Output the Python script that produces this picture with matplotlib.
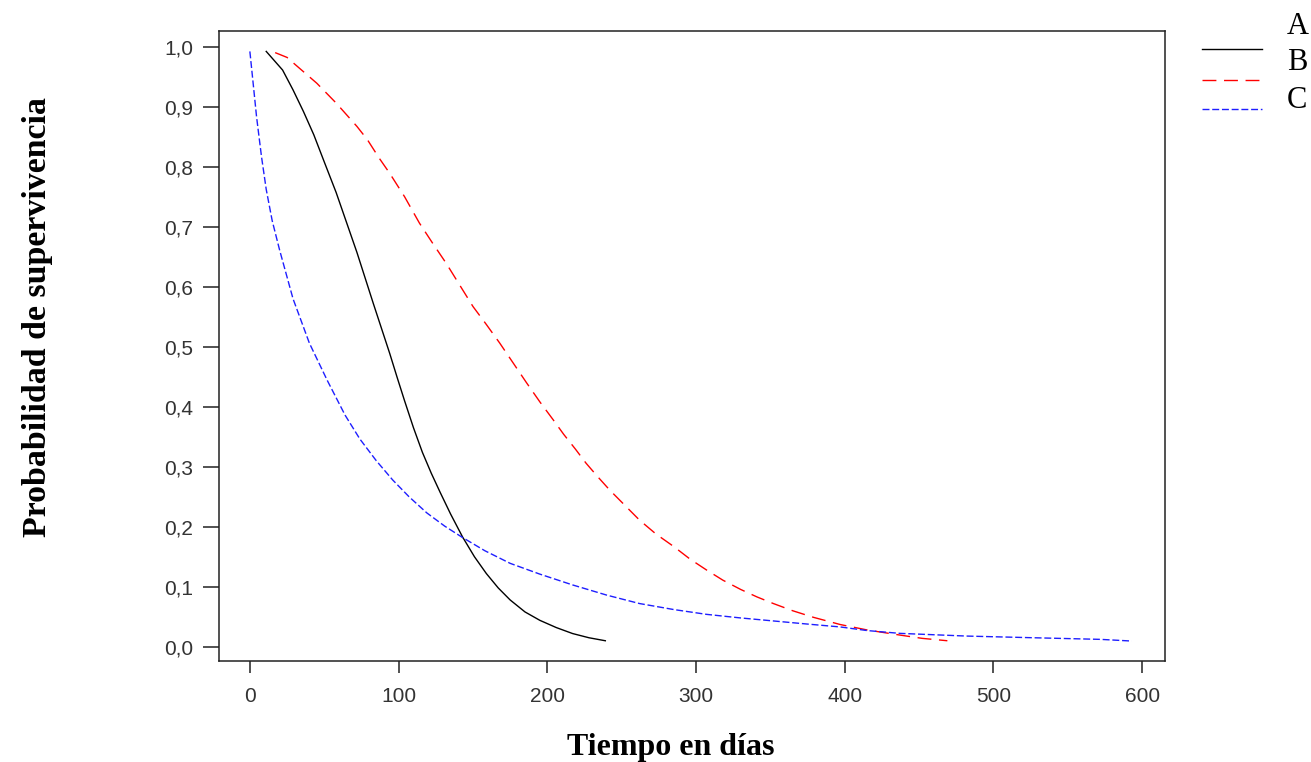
import matplotlib
matplotlib.use('Agg')
import matplotlib.pyplot as plt
from matplotlib.lines import Line2D

# Curve A (black, solid)
time_a = [11, 22, 29, 36, 43, 50, 58, 65, 72, 83, 94, 99, 104, 110, 116, 122, 128, 135, 143,
          151, 159, 167, 175, 185, 195, 206, 217, 228, 239]
surv_a = [0.992, 0.961, 0.928, 0.892, 0.853, 0.808, 0.757, 0.707, 0.657, 0.572, 0.489, 0.449,
          0.410, 0.365, 0.324, 0.289, 0.257, 0.221, 0.183, 0.150, 0.122, 0.098, 0.078, 0.058,
          0.044, 0.032, 0.022, 0.015, 0.010]

# Curve B (red, long dashes)
time_b = [17, 25, 31, 45, 58, 72, 79, 87, 94, 104, 114, 123, 132, 141, 150, 159, 168, 177, 186,
          195, 204, 211, 219, 226, 234, 242, 252, 262, 273, 285, 296, 307, 318, 330, 341, 352,
          365, 379, 397, 415, 437, 452, 469]
surv_b = [0.99, 0.982, 0.969, 0.939, 0.906, 0.867, 0.845, 0.814, 0.789, 0.750, 0.706, 0.672,
          0.639, 0.603, 0.567, 0.537, 0.506, 0.473, 0.440, 0.408, 0.378, 0.354, 0.329, 0.306,
          0.283, 0.261, 0.236, 0.211, 0.188, 0.167, 0.146, 0.128, 0.111, 0.0955, 0.083, 0.072,
          0.060, 0.049, 0.037, 0.028, 0.0195, 0.014, 0.010]

# Curve C (blue, short dashes)
time_c = [0, 2.2, 4.5, 7.8, 11, 15, 20, 29, 40, 52, 64, 74, 85, 96, 107, 119, 131, 143, 158,
          175, 195, 217, 240, 262, 285, 307, 330, 352, 374, 397, 415, 437, 482, 527, 572, 593]
surv_c = [0.992, 0.939, 0.883, 0.817, 0.762, 0.710, 0.661, 0.580, 0.506, 0.444, 0.386, 0.346,
          0.310, 0.278, 0.250, 0.223, 0.201, 0.182, 0.160, 0.139, 0.121, 0.103, 0.086, 0.072,
          0.062, 0.054, 0.048, 0.043, 0.038, 0.033, 0.027, 0.0223, 0.0178, 0.015, 0.0123,
          0.0095]

x_ticks = [0, 100, 200, 300, 400, 500, 600]
y_ticks = [0.0, 0.1, 0.2, 0.3, 0.4, 0.5, 0.6, 0.7, 0.8, 0.9, 1.0]
y_tick_labels = ['0,0', '0,1', '0,2', '0,3', '0,4', '0,5', '0,6', '0,7', '0,8', '0,9', '1,0']
legend_names = ['A', 'B', 'C']

fig = plt.figure(figsize=(13.11, 7.62), dpi=100)
ax = fig.add_axes([0.1670, 0.1325, 0.7216, 0.8268])

ax.plot(time_a, surv_a, color='black', linewidth=1.0)
ax.plot(time_b, surv_b, color='#ff0000', linewidth=1.0, dashes=(10, 5.5))
ax.plot(time_c, surv_c, color='#1e1eff', linewidth=1.0, dashes=(5, 2))

ax.set_xlim(-20.8, 615.3)
ax.set_ylim(-0.0238, 1.026)
ax.set_xticks(x_ticks)
ax.set_yticks(y_ticks)
ax.set_yticklabels(y_tick_labels)

for sp in ax.spines.values():
    sp.set_linewidth(1.1)
    sp.set_color('#222222')

ax.tick_params(axis='both', direction='out', width=1.1, color='#222222',
               labelsize=15, labelcolor='#333333')
ax.tick_params(axis='y', length=11.5, pad=7)
ax.tick_params(axis='x', length=8.5, pad=10.5)
for lab in ax.get_xticklabels() + ax.get_yticklabels():
    lab.set_family('Liberation Sans')

# Axis titles
fig.text(671 / 1311, 1 - 748 / 762, 'Tiempo en días', ha='center', va='center',
         family='Liberation Serif', fontweight='bold', fontsize=23)
fig.text(38 / 1311, 1 - 317 / 762, 'Probabilidad de supervivencia', ha='center', va='center',
         rotation=90, family='Liberation Serif', fontweight='bold', fontsize=24.4)

# Legend drawn by hand (labels sit above their line samples)
styles = [dict(color='black'), dict(color='#ff0000', dashes=(10, 5.5)),
          dict(color='#1e1eff', dashes=(5, 2))]
line_y = [49, 80, 109]
text_y = [27, 62, 101]
for name, st, ly, ty in zip(legend_names, styles, line_y, text_y):
    fig.add_artist(Line2D([1202 / 1311, 1262 / 1311], [1 - ly / 762, 1 - ly / 762],
                          linewidth=1.0, **st))
    fig.text(1287 / 1311, 1 - ty / 762, name, ha='left', va='center',
             family='Liberation Serif', fontsize=22)

fig.savefig('out.png', dpi=100)
